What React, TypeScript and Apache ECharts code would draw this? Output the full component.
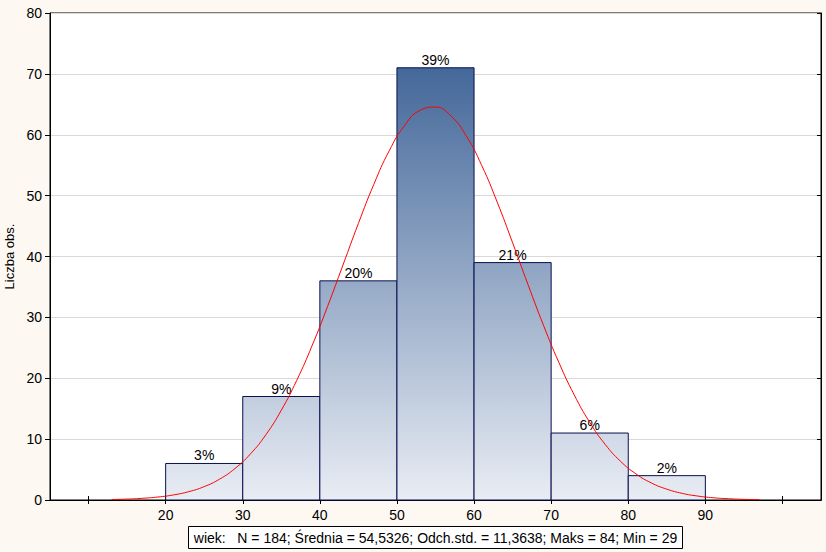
import React, { useEffect, useRef } from "react";
import * as echarts from "echarts";

const binStarts = [20, 30, 40, 50, 60, 70, 80];
const binWidth = 10;
const counts = [6, 17, 36, 71, 39, 11, 4];
const percentLabels = ["3%", "9%", "20%", "39%", "21%", "6%", "2%"];

const curveX = [13, 15, 17, 19, 21, 23, 25, 27, 29, 31, 33, 35, 37, 39, 41, 43, 45, 47, 49, 51, 53, 55, 57, 59, 61, 63, 65, 67, 69, 71, 73, 75, 77, 79, 81, 83, 85, 87, 89, 91, 93, 95, 97];
const curveY = [0.08, 0.15, 0.28, 0.49, 0.83, 1.37, 2.2, 3.43, 5.18, 7.57, 10.73, 14.75, 19.65, 25.38, 31.79, 38.6, 45.43, 51.85, 57.37, 61.54, 64.01, 64.55, 63.09, 59.79, 54.94, 48.94, 42.26, 35.38, 28.72, 22.6, 17.25, 12.76, 9.15, 6.36, 4.29, 2.8, 1.78, 1.09, 0.65, 0.37, 0.21, 0.11, 0.06];

const xTickValues = [10, 20, 30, 40, 50, 60, 70, 80, 90, 100];
const xLabelValues = [20, 30, 40, 50, 60, 70, 80, 90];

const yAxisName = "Liczba obs.";
const statsText = "wiek:   N = 184; Średnia = 54,5326; Odch.std. = 11,3638; Maks = 84; Min = 29";

const FONT = "Liberation Sans, Arial, sans-serif";

export default function App() {
  const ref = useRef<HTMLDivElement>(null);
  useEffect(() => {
    if (!ref.current) return;
    const chart = echarts.init(ref.current, null, { renderer: "svg" });
    const gridTop = 13;
    const gridHeight = 487;
    const barFill = new echarts.graphic.LinearGradient(
      0, 68, 0, gridTop + gridHeight,
      [
        { offset: 0, color: "#44689a" },
        { offset: 1, color: "#e9edf4" },
      ],
      true
    );
    const barData = binStarts.map((s, i) => [s, s + binWidth, counts[i], percentLabels[i]]);
    chart.setOption({
      animation: false,
      backgroundColor: "#fdf9f2",
      textStyle: { fontFamily: FONT },
      grid: {
        left: 50,
        top: gridTop,
        width: 771,
        height: gridHeight,
        show: true,
        backgroundColor: "#ffffff",
        borderColor: "#000000",
        borderWidth: 1,
        containLabel: false,
        outerBoundsMode: "none",
      },
      xAxis: [
        {
          type: "value",
          min: 5,
          max: 105,
          position: "bottom",
          axisLine: { show: true, lineStyle: { color: "#000", width: 1 } },
          axisTick: {
            show: true,
            inside: true,
            length: 4,
            customValues: xTickValues,
            lineStyle: { color: "#000" },
          },
          axisLabel: {
            customValues: xLabelValues,
            color: "#000",
            fontSize: 14,
            fontFamily: FONT,
            margin: 8,
          },
          splitLine: { show: false },
        },
        {
          type: "value",
          min: 5,
          max: 105,
          position: "top",
          axisLine: { show: true, lineStyle: { color: "#000", width: 1 } },
          axisTick: {
            show: true,
            inside: true,
            length: 4,
            customValues: xTickValues,
            lineStyle: { color: "#000" },
          },
          axisLabel: { show: false },
          splitLine: { show: false },
        },
      ],
      yAxis: [
        {
          type: "value",
          min: 0,
          max: 80,
          interval: 10,
          position: "left",
          name: yAxisName,
          nameLocation: "middle",
          nameGap: 33,
          nameTextStyle: { color: "#000", fontSize: 13, fontFamily: FONT },
          axisLine: { show: true, lineStyle: { color: "#000", width: 1 } },
          axisTick: { show: true, inside: false, length: 5, lineStyle: { color: "#000" } },
          axisLabel: { color: "#000", fontSize: 14, fontFamily: FONT, margin: 8 },
          splitLine: { show: true, lineStyle: { color: "#d9d9d9", width: 1 } },
        },
        {
          type: "value",
          min: 0,
          max: 80,
          interval: 10,
          position: "right",
          axisLine: { show: true, lineStyle: { color: "#000", width: 1 } },
          axisTick: { show: true, inside: true, length: 4, lineStyle: { color: "#000" } },
          axisLabel: { show: false },
          splitLine: { show: false },
        },
      ],
      series: [
        {
          type: "custom",
          xAxisIndex: 0,
          yAxisIndex: 0,
          data: barData,
          renderItem: (params: any, api: any) => {
            const x0 = api.value(0);
            const x1 = api.value(1);
            const v = api.value(2);
            const lbl = barData[params.dataIndex][3];
            const p0 = api.coord([x0, v]);
            const p1 = api.coord([x1, 0]);
            return {
              type: "group",
              children: [
                {
                  type: "rect",
                  shape: { x: p0[0], y: p0[1], width: p1[0] - p0[0], height: p1[1] - p0[1] },
                  style: { fill: barFill, stroke: "#0a0f50", lineWidth: 1 },
                },
                {
                  type: "text",
                  x: (p0[0] + p1[0]) / 2,
                  y: p0[1] - 1,
                  style: {
                    text: lbl,
                    fill: "#000",
                    font: "14px " + FONT,
                    textAlign: "center",
                    textVerticalAlign: "bottom",
                  },
                },
              ],
            };
          },
          z: 2,
        },
        {
          type: "line",
          xAxisIndex: 0,
          yAxisIndex: 0,
          data: curveX.map((x, i) => [x, curveY[i]]),
          smooth: true,
          showSymbol: false,
          symbol: "none",
          lineStyle: { color: "#ff0000", width: 1 },
          z: 3,
        },
      ],
      graphic: [
        {
          type: "group",
          left: 188,
          top: 526,
          children: [
            {
              type: "rect",
              shape: { x: 0, y: 0, width: 494, height: 22 },
              style: { fill: "#ffffff", stroke: "#000000", lineWidth: 1 },
            },
            {
              type: "text",
              x: 247,
              y: 11,
              style: {
                text: statsText,
                fill: "#000",
                font: "14px " + FONT,
                textAlign: "center",
                textVerticalAlign: "middle",
              },
            },
          ],
        },
      ],
    });
    return () => chart.dispose();
  }, []);
  return (
    <div
      ref={ref}
      style={{ position: "fixed", left: 0, top: 0, width: 826, height: 552 }}
    />
  );
}
